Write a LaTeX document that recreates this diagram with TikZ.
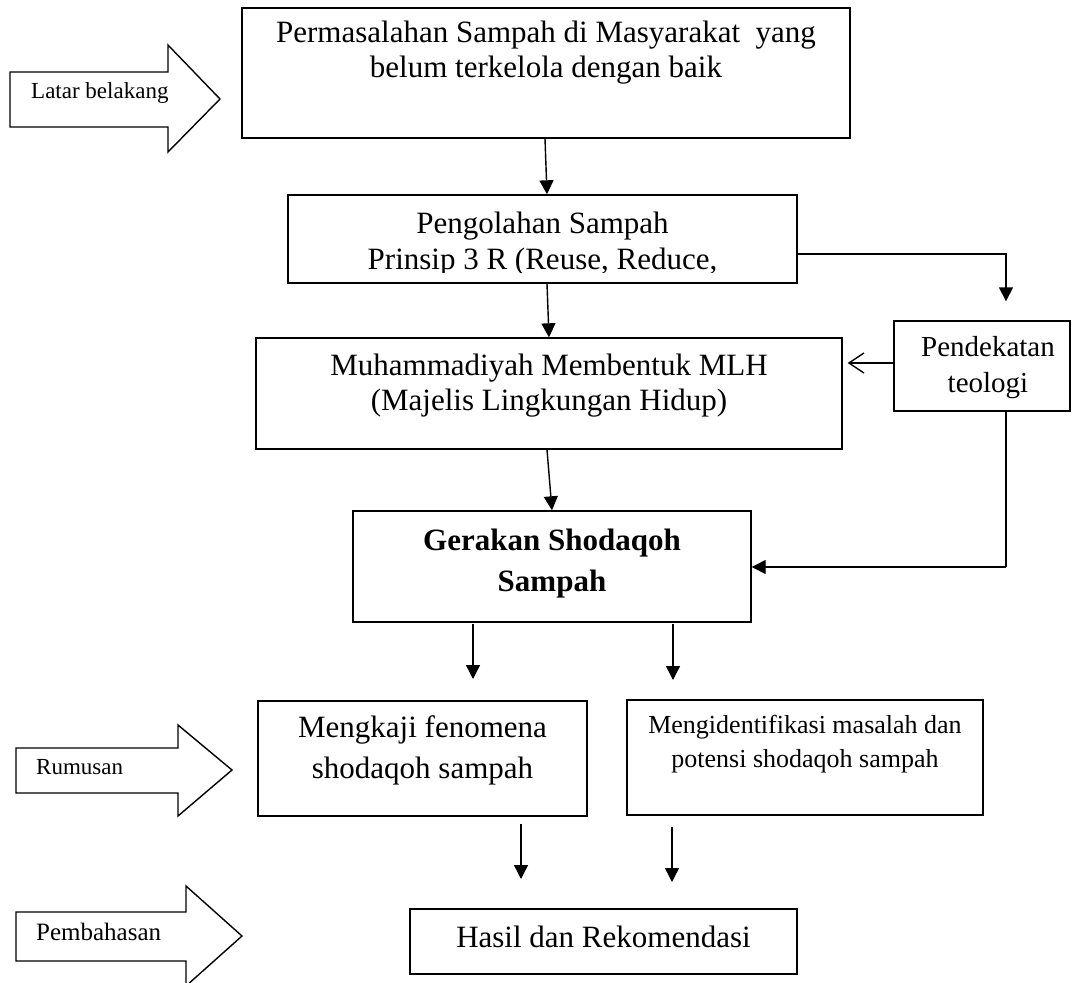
\documentclass[tikz,border=0pt]{standalone}
\usepackage{fontspec}
\setmainfont{Liberation Serif}
\usetikzlibrary{arrows.meta,calc}
\tikzset{
  box/.style={draw, line width=1.4pt, rectangle, inner sep=0pt},
  txt/.style={anchor=base, inner sep=0pt, font=\fontsize{31}{37}\selectfont},
  smalltxt/.style={anchor=base west, inner sep=0pt, font=\fontsize{23}{27}\selectfont},
  conn/.style={line width=1.4pt, -{Triangle[length=14pt,width=14pt]}},
  openconn/.style={line width=1.4pt, -{Straight Barb[length=15pt,width=20pt,line width=1.4pt]}},
  plain/.style={line width=1.4pt},
  blockarrow/.style={draw, line width=1.4pt, line join=miter}
}
\begin{document}
\begin{tikzpicture}[x=1pt,y=-1pt]
\useasboundingbox (0,0) rectangle (1072,983);

% block arrows on the left
\draw[blockarrow] (10,72) -- (168,72) -- (168,45) -- (220,99) -- (168,152) -- (168,127) -- (10,127) -- cycle;
\node[smalltxt] (lblLatar) at (31,98) {Latar belakang};
\draw[blockarrow] (16,748) -- (178,748) -- (178,725) -- (232,770) -- (178,816) -- (178,793) -- (16,793) -- cycle;
\node[smalltxt] (lblRum) at (36,774) {Rumusan};
\draw[blockarrow] (16,912) -- (186,912) -- (186,886) -- (242,936) -- (186,986) -- (186,961) -- (16,961) -- cycle;
\node[smalltxt, font=\fontsize{25}{29}\selectfont] (lblPem) at (36,940) {Pembahasan};

% boxes
\node[box, minimum width=608pt, minimum height=130pt] (top) at (546,73) {};
\node[txt] (topA) at (546,42) {Permasalahan Sampah di Masyarakat\ \ yang};
\node[txt] (topB) at (546,77) {belum terkelola dengan baik};

\node[box, minimum width=509pt, minimum height=88pt] (peng) at (542.5,239) {};
\node[txt] (pengA) at (542.5,233) {Pengolahan Sampah};
\begin{scope}
  \clip (288,195) rectangle (797,272);
  \node[txt] (pengB) at (542.5,269) {Prinsip 3 R (Reuse, Reduce,};
\end{scope}

\node[box, minimum width=586pt, minimum height=111pt] (muh) at (549,393.5) {};
\node[txt] (muhA) at (549,375) {Muhammadiyah Membentuk MLH};
\node[txt] (muhB) at (549,410) {(Majelis Lingkungan Hidup)};

\node[box, minimum width=176pt, minimum height=90pt] (pend) at (982,366) {};
\node[txt, font=\fontsize{29}{35}\selectfont] (pendA) at (988,356) {Pendekatan};
\node[txt, font=\fontsize{29}{35}\selectfont] (pendB) at (988,392) {teologi};

\node[box, minimum width=398pt, minimum height=111pt] (ger) at (552,566.5) {};
\node[txt, font=\fontsize{31}{37}\selectfont\bfseries] (gerA) at (552,550) {Gerakan Shodaqoh};
\node[txt, font=\fontsize{31}{37}\selectfont\bfseries] (gerB) at (552,591) {Sampah};

\node[box, minimum width=329pt, minimum height=115pt] (kaji) at (422.5,758.5) {};
\node[txt] (kajiA) at (422.5,737) {Mengkaji fenomena};
\node[txt] (kajiB) at (422.5,778) {shodaqoh sampah};

\node[box, minimum width=356pt, minimum height=115pt] (iden) at (805,757.5) {};
\node[txt, font=\fontsize{26}{31}\selectfont] (idenA) at (805,733) {Mengidentifikasi masalah dan};
\node[txt, font=\fontsize{26}{31}\selectfont] (idenB) at (805,767) {potensi shodaqoh sampah};

\node[box, minimum width=387pt, minimum height=65pt] (hasil) at (603.5,941.5) {};
\node[txt] (hasilA) at (603.5,947) {Hasil dan Rekomendasi};

% connectors
\draw[conn] ([xshift=-1pt]top.south) -- ([xshift=4.5pt]peng.north);
\draw[conn] ([xshift=4.5pt]peng.south) -- (muh.north);
\coordinate (pendIn) at ($(pend.north)+(24,-19)$);
\draw[conn] (peng.east |- 0,254) -| (pendIn);
\draw[openconn] (pend.west |- 0,363) -- ([xshift=5pt]muh.east |- 0,363);
\coordinate (pendOut) at ($(pend.south)+(24,0)$);
\draw[plain] (pendOut) -- (pendOut |- 0,567) coordinate (pendTurn);
\draw[conn] (pendTurn) -- (ger.east |- pendTurn);
\draw[conn] ([xshift=-2pt]muh.south) -- (ger.north);
\coordinate (gerL) at ($(ger.south)+(-79,1)$);
\coordinate (gerR) at ($(ger.south)+(121,1)$);
\draw[conn] (gerL) -- (gerL |- 0,679);
\draw[conn] (gerR) -- (gerR |- 0,680);
\coordinate (kajiOut) at ($(kaji.south)+(98.5,7)$);
\coordinate (idenOut) at ($(iden.south)+(-133,11)$);
\draw[conn] (kajiOut) -- (kajiOut |- 0,879);
\draw[conn] (idenOut) -- (idenOut |- 0,882);
\end{tikzpicture}
\end{document}
